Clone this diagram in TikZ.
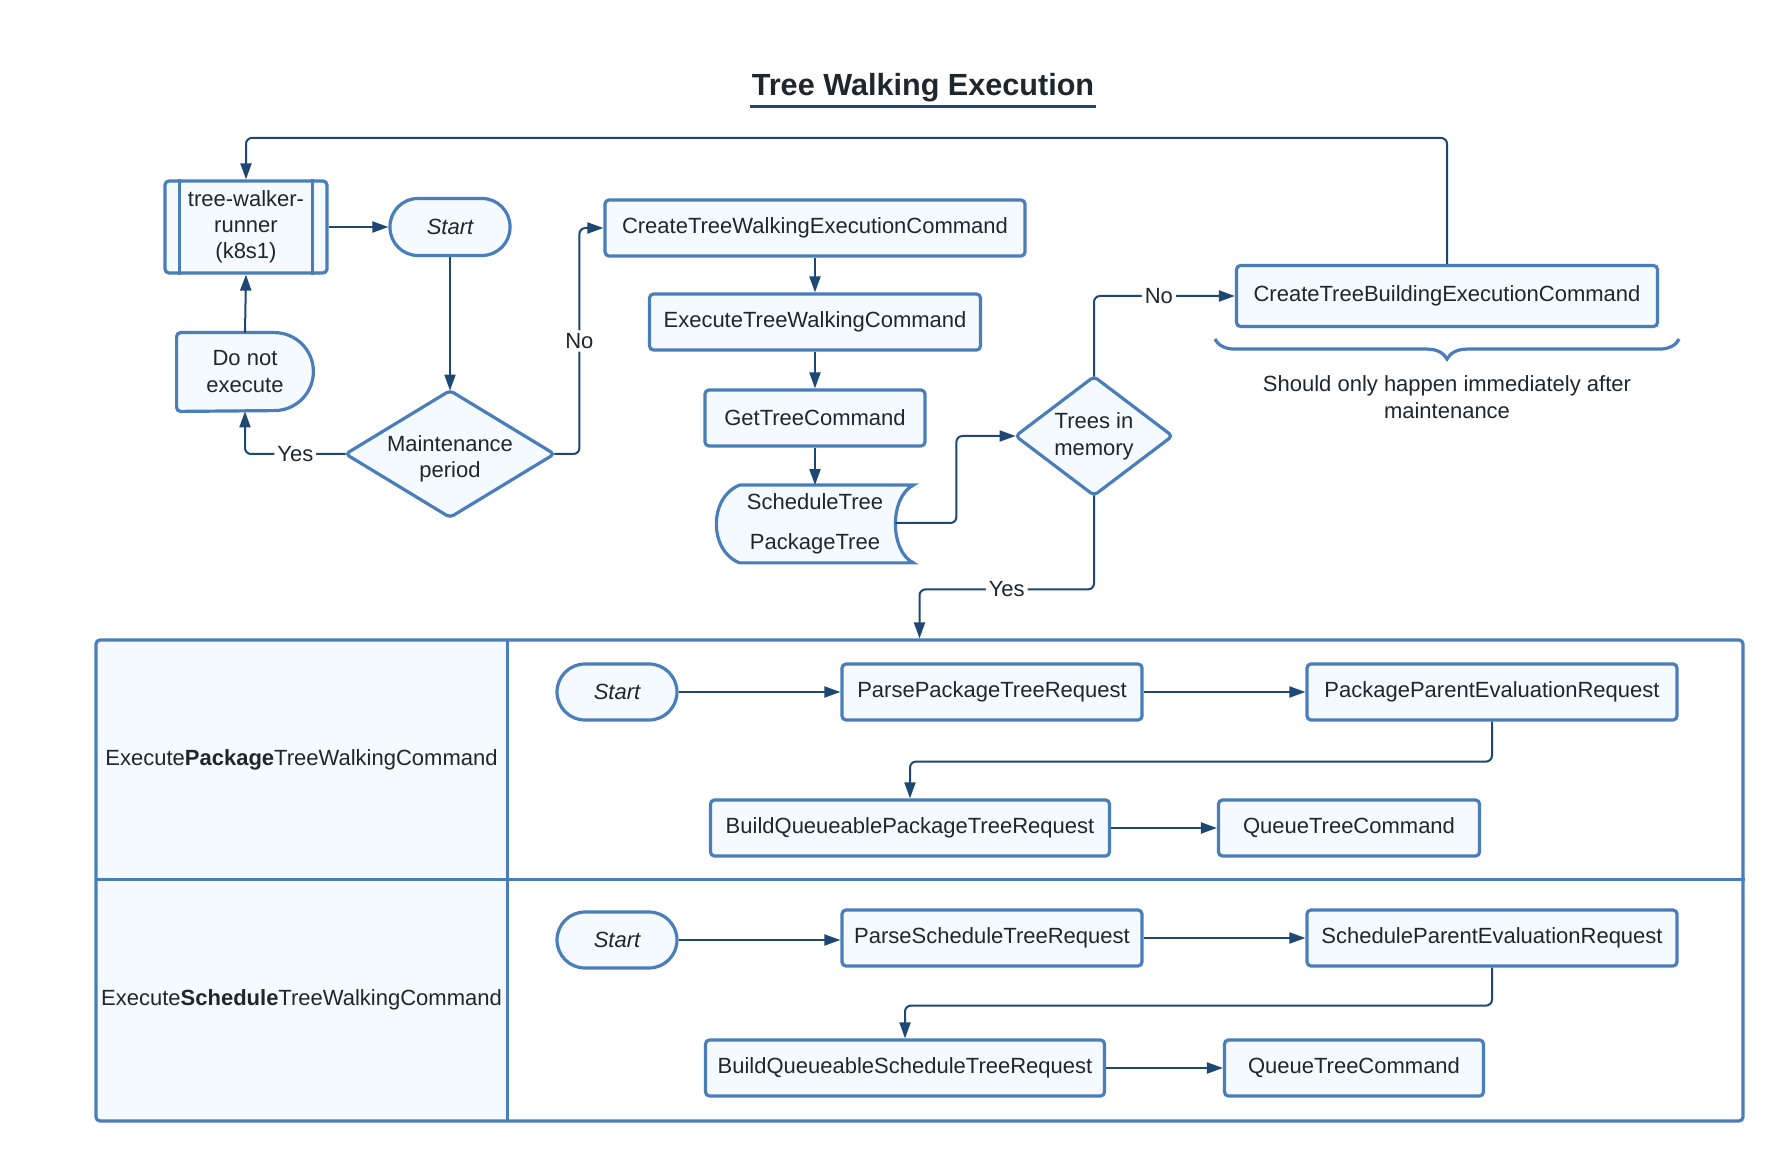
\documentclass[tikz,border=0pt]{standalone}
\usepackage{fontspec}
\setmainfont{Liberation Sans}
\usetikzlibrary{arrows.meta,calc,decorations.pathreplacing,backgrounds}
\definecolor{bordc}{RGB}{74,126,187}
\definecolor{linec}{RGB}{30,72,115}
\definecolor{fillc}{RGB}{245,250,255}
\definecolor{txtc}{RGB}{30,38,46}
\tikzset{
  shp/.style={draw=bordc, fill=fillc, line width=1.6pt},
  box/.style={shp, rounded corners=2pt, inner sep=0pt, font=\fontsize{11}{13}\selectfont, text=txtc, align=center},
  term/.style={box, rounded corners=14pt, font=\itshape\fontsize{11}{13}\selectfont, minimum width=60pt, minimum height=28pt},
  ghost/.style={inner sep=0pt, font=\fontsize{11}{13}\selectfont, text=txtc, align=center},
  conn/.style={draw=linec, line width=1pt, rounded corners=3pt, -{Triangle[length=8pt,width=5.5pt]}},
  lbl/.style={fill=white, inner sep=1.5pt, font=\fontsize{11}{13}\selectfont, text=txtc},
  lanecell/.style={fill=fillc, inner sep=0pt, font=\fontsize{11}{13}\selectfont, text=txtc},
}
\begin{document}
\begin{tikzpicture}[x=0.5pt,y=-0.5pt]
\useasboundingbox (0,0) rectangle (1784,1160);
\begin{scope}[on background layer]
  \fill[white] (0,0) rectangle (1784,1160);
\end{scope}

% title
\node[font=\bfseries\fontsize{15.3}{18}\selectfont, text=txtc, anchor=base, inner sep=0pt] (title) at (923,96) {Tree Walking Execution};
\draw[linec, line width=1.5pt] ($(title.base west)+(-1,11)$) -- ($(title.base east)+(1,11)$);

% upper flow
\node[box, minimum width=81pt, minimum height=46pt] (tw) at (246,227) {tree-walker-\\runner\\(k8s1)};
\draw[bordc, line width=1.6pt] ($(tw.north west)+(16,0)$) -- ($(tw.south west)+(16,0)$);
\draw[bordc, line width=1.6pt] ($(tw.north east)+(-16,0)$) -- ($(tw.south east)+(-16,0)$);

\node[term, minimum height=28.5pt] (s0) at (450,227) {Start};

\node[ghost, minimum width=68pt, minimum height=39pt, font=\fontsize{11}{13.5}\selectfont] (dne) at (245,372) {Do not\\execute};
\begin{scope}[on background layer]
  \draw[shp] ($(dne.north east)+(-39,0)$) arc[start angle=90,end angle=-90,radius=19.5pt]
    -- ($(dne.south west)+(4,0)$) arc[start angle=270,end angle=180,radius=2pt]
    -- ($(dne.north west)+(0,4)$) arc[start angle=180,end angle=90,radius=2pt] -- cycle;
\end{scope}

\node[ghost, minimum width=104pt, minimum height=63pt,
      label={[ghost, yshift=-2.5pt]center:{Maintenance\\period}}] (mp) at (450,454) {};
\begin{scope}[on background layer]
  \draw[shp, rounded corners=2pt] (mp.north) -- (mp.east) -- (mp.south) -- (mp.west) -- cycle;
\end{scope}

\node[box, minimum width=210pt, minimum height=28pt] (ctwec) at (815,228) {CreateTreeWalkingExecutionCommand};
\node[box, minimum width=165.5pt, minimum height=28pt] (etwc) at (815,322) {ExecuteTreeWalkingCommand};
\node[box, minimum width=110pt, minimum height=28pt] (gtc) at (815,418) {GetTreeCommand};

\node[ghost, minimum width=98pt, minimum height=38.5pt, font=\fontsize{11}{20}\selectfont] (sd) at (815,524) {ScheduleTree\\PackageTree};
\begin{scope}[on background layer]
  \draw[shp] ($(sd.north west)+(23,0)$) -- (sd.north east)
    .. controls ($(sd.north east)+(-24,12)$) and ($(sd.south east)+(-24,-12)$) .. (sd.south east)
    -- ($(sd.south west)+(23,0)$)
    .. controls ($(sd.south west)+(-8,-12)$) and ($(sd.north west)+(-8,12)$) .. ($(sd.north west)+(23,0)$) -- cycle;
\end{scope}
\coordinate (sdout) at ($(sd.east)+(-18,-1)$);

\node[ghost, minimum width=78pt, minimum height=59pt, font=\fontsize{11}{13.5}\selectfont] (tm) at (1094,436) {Trees in\\memory};
\begin{scope}[on background layer]
  \draw[shp, rounded corners=2pt] (tm.north) -- (tm.east) -- (tm.south) -- (tm.west) -- cycle;
\end{scope}

\node[box, minimum width=210.5pt, minimum height=30.5pt] (ctbec) at (1447,296) {CreateTreeBuildingExecutionCommand};
\draw[bordc, line width=1.6pt, decorate, decoration={brace, mirror, amplitude=10pt}]
  ($(ctbec.south west)+(-20,11)$) -- ($(ctbec.south east)+(20,11)$);
\node[ghost, font=\fontsize{11}{13.5}\selectfont] (note) at (1447,397) {Should only happen immediately after\\maintenance};

% swimlane pool
\node[lanecell, minimum width=205.5pt, minimum height=119.5pt] (l1) at (301.5,759.5) {Execute\textbf{Package}TreeWalkingCommand};
\node[lanecell, minimum width=205.5pt, minimum height=121pt] (l2) at (301.5,1000) {Execute\textbf{Schedule}TreeWalkingCommand};
\node[draw=bordc, line width=1.6pt, rounded corners=2pt, minimum width=823.5pt, minimum height=240.5pt, inner sep=0pt] (pool) at (919.5,880.5) {};
\draw[bordc, line width=1.6pt] (l1.north east) -- (l2.south east);
\draw[bordc, line width=1.6pt] (l1.south west) -- (pool.east |- l1.south);

% lane 1
\node[term] (st1) at (617,692) {Start};
\node[box, minimum width=150pt, minimum height=28pt] (pptr) at (992,692) {ParsePackageTreeRequest};
\node[box, minimum width=185pt, minimum height=28pt] (pper) at (1492,692) {PackageParentEvaluationRequest};
\node[box, minimum width=199.5pt, minimum height=28pt] (bqptr) at (910,828) {BuildQueueablePackageTreeRequest};
\node[box, minimum width=130.5pt, minimum height=28pt] (qtc1) at (1349,828) {QueueTreeCommand};

% lane 2
\node[term] (st2) at (617,940) {Start};
\node[box, minimum width=150pt, minimum height=28pt] (pstr) at (992,938) {ParseScheduleTreeRequest};
\node[box, minimum width=185pt, minimum height=28pt] (sper) at (1492,938) {ScheduleParentEvaluationRequest};
\node[box, minimum width=199.5pt, minimum height=28pt] (bqstr) at (905,1068) {BuildQueueableScheduleTreeRequest};
\node[box, minimum width=129.5pt, minimum height=28pt] (qtc2) at (1354,1068) {QueueTreeCommand};

% connectors (upper)
\draw[conn] (ctbec.north) -- ++(0,-126) -| (tw.north);
\draw[conn] (tw.east) -- (s0.west);
\draw[conn] (s0.south) -- (mp.north);
\draw[conn] (mp.west) -| node[lbl, pos=0.25] {Yes} (dne.south);
\draw[conn] (dne.north) -- (tw.south);
\draw[conn] (mp.east) -- ++(25,0) |- node[lbl, pos=0.25] {No} (ctwec.west);
\draw[conn] (ctwec.south) -- (etwc.north);
\draw[conn] (etwc.south) -- (gtc.north);
\draw[conn] (gtc.south) -- (sd.north);
\draw[conn] (sdout) -- ++(61,0) |- (tm.west);
\draw[conn] (tm.north) |- node[lbl, pos=0.73] {No} (ctbec.west);
\draw[conn] (tm.south) -- ++(0,94) -| node[lbl, pos=0.25] {Yes} (pool.north);

% connectors (lanes)
\draw[conn] (st1.east) -- (pptr.west);
\draw[conn] (pptr.east) -- (pper.west);
\draw[conn] (pper.south) -- ++(0,40) -| (bqptr.north);
\draw[conn] (bqptr.east) -- (qtc1.west);
\draw[conn] (st2.east) -- (st2.east -| pstr.west);
\draw[conn] (pstr.east) -- (sper.west);
\draw[conn] (sper.south) -- ++(0,38) -| (bqstr.north);
\draw[conn] (bqstr.east) -- (qtc2.west);
\end{tikzpicture}
\end{document}
